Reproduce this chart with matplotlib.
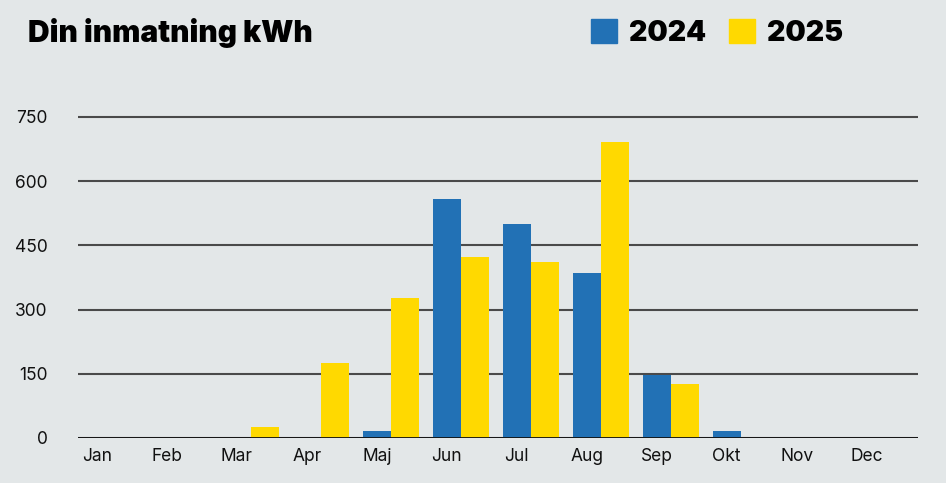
import matplotlib.pyplot as plt
import numpy as np
from matplotlib.patches import Patch

months = ["Jan", "Feb", "Mar", "Apr", "Maj", "Jun", "Jul", "Aug", "Sep", "Okt", "Nov", "Dec"]
kwh_2024 = [0, 0, 0, 0, 16, 558, 500, 385, 147, 16, 0, 0]
kwh_2025 = [0, 0, 26, 175, 327, 423, 411, 692, 126, 0, 0, 0]
yticks = [0, 150, 300, 450, 600, 750]

bg = "#e3e7e8"
blue = "#2271b5"
yellow = "#ffd900"

plt.rcParams['font.family'] = ['Inter', 'DejaVu Sans']

fig = plt.figure(figsize=(9.46, 4.83), dpi=100, facecolor=bg)
ax = fig.add_axes([0.0825, 0.0932, 0.8875, 0.669], facecolor=bg)

x = np.arange(len(months))
w = 0.4
ax.bar(x, kwh_2024, w, color=blue, zorder=3)
ax.bar(x + w, kwh_2025, w, color=yellow, zorder=3)

ax.set_xlim(-0.27, 11.73)
ax.set_ylim(0, 755)
ax.set_yticks(yticks)
ax.set_xticks(x)
ax.set_xticklabels(months)
ax.tick_params(length=0, labelsize=12.5, colors="#111111")
ax.tick_params(axis="y", pad=22)
ax.tick_params(axis="x", pad=7)
for s in ax.spines.values():
    s.set_visible(False)
ax.grid(axis="y", color="#4a4a4a", linewidth=1.5, zorder=1)
ax.axhline(0, color="#111111", linewidth=2, zorder=4)

fig.text(0.03, 0.913, "Din inmatning kWh", fontsize=21.5, fontweight="black",
         va="baseline", ha="left", color="black")

handles = [Patch(color=blue, label="2024"), Patch(color=yellow, label="2025")]
fig.legend(handles=handles, loc="center right", bbox_to_anchor=(0.891, 0.932),
           ncol=2, frameon=False, prop={"size": 20.5, "weight": "black"},
           handlelength=0.91, handleheight=0.91, handletextpad=0.42,
           columnspacing=0.8, borderaxespad=0, borderpad=0)

fig.savefig("out.png", dpi=100, facecolor=bg)
